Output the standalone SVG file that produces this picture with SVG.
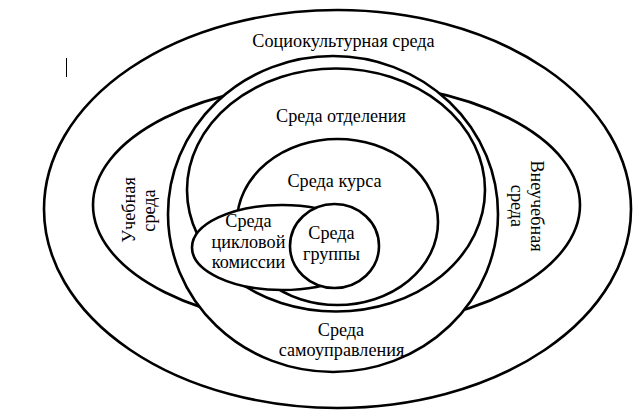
<svg xmlns="http://www.w3.org/2000/svg" width="643" height="416" viewBox="0 0 643 416">
<style>
.sh{stroke:#000;stroke-width:2.6}
.w{fill:#fff}
.n{fill:none}
text{font-family:"Liberation Serif","Times New Roman","DejaVu Serif",serif;font-size:18.2px;fill:#000;text-anchor:middle}
</style>
<rect width="643" height="416" fill="#fff"/>
<g id="sociocultural">
<ellipse class="sh w" cx="337.5" cy="209" rx="293.5" ry="199"/>
<text x="343.5" y="47">Социокультурная среда</text>
</g>
<g id="cursor"><line x1="66.5" y1="58" x2="66.5" y2="77" stroke="#000" stroke-width="1"/></g>
<g id="study">
<ellipse class="sh n" cx="336.5" cy="205" rx="243.5" ry="123"/>
<text transform="translate(135,210) rotate(-90)">Учебная</text>
<text transform="translate(155,210.5) rotate(-90)">среда</text>
<text transform="translate(531,206) rotate(90)">Внеучебная</text>
<text transform="translate(511,206) rotate(90)">среда</text>
</g>
<g id="selfgov">
<ellipse class="sh w" cx="333" cy="214" rx="165" ry="158"/>
<text x="341" y="336">Среда</text>
<text x="341.5" y="356">самоуправления</text>
</g>
<g id="department">
<ellipse class="sh n" cx="336" cy="190" rx="149" ry="121.5"/>
<text x="341" y="122">Среда отделения</text>
</g>
<g id="course">
<ellipse class="sh n" cx="337.5" cy="222" rx="100.5" ry="83"/>
<text x="334.5" y="187">Среда курса</text>
</g>
<g id="commission">
<ellipse class="sh w" cx="282" cy="247.5" rx="90" ry="42.5"/>
<text x="248.5" y="227">Среда</text>
<text x="248.5" y="248">цикловой</text>
<text x="248.5" y="268">комиссии</text>
</g>
<g id="group">
<ellipse class="sh w" cx="334.5" cy="246" rx="44.5" ry="42"/>
<text x="331.5" y="239">Среда</text>
<text x="331.5" y="260">группы</text>
</g>
<g id="connectors"></g>
</svg>
